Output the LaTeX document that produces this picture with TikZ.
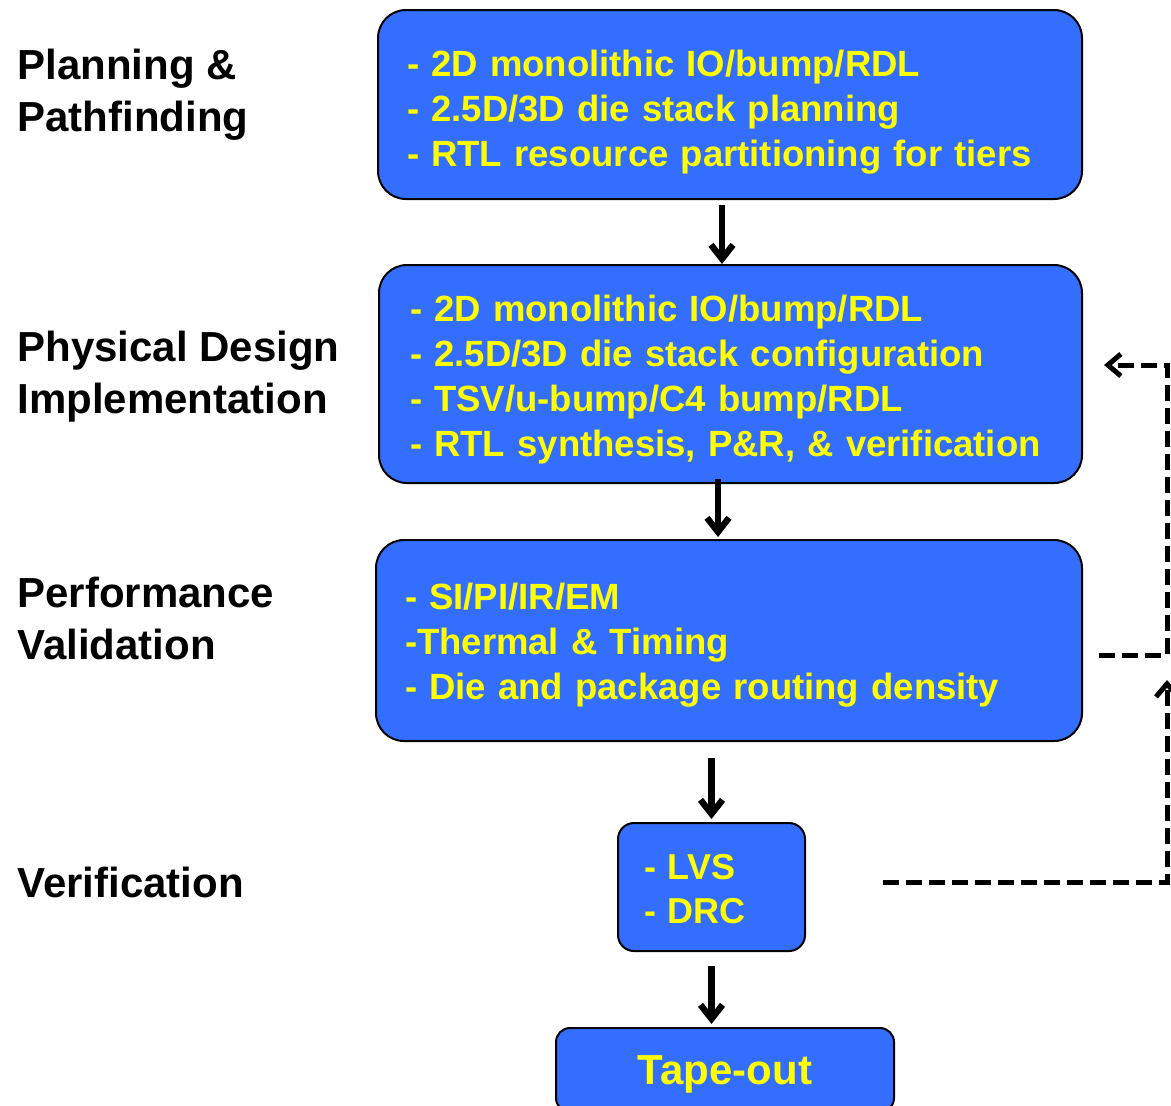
\documentclass[tikz,border=0pt]{standalone}
\usepackage{fontspec}
\setmainfont{Liberation Sans}
\usetikzlibrary{arrows.meta,calc}
\definecolor{boxblue}{RGB}{51,110,255}
\definecolor{txtyellow}{RGB}{255,255,0}
\newcommand{\tstr}[1]{\rule{0pt}{#1}}
\begin{document}
\begin{tikzpicture}[x=0.5pt,y=-0.5pt,
  box/.style={draw=black, line width=1pt, fill=boxblue, rounded corners=14pt,
    text=txtyellow, font=\bfseries\fontsize{18.25}{22.5}\selectfont,
    align=left, inner ysep=0pt},
  lbl/.style={anchor=west, align=left, font=\bfseries\fontsize{21}{26}\selectfont, inner sep=0pt},
  arr/.style={line width=3.2pt, -{Straight Barb[length=7pt,width=11pt]}},
  dsh/.style={line width=2.5pt, dash pattern=on 8pt off 3.5pt,
    -{Straight Barb[length=6.5pt,width=11pt]}},
]
\useasboundingbox (0,0) rectangle (1171,1105);
\clip (0,0) rectangle (1171,1105);

% left labels
\node[lbl] (l1) at (17,95) {Planning \&\\Pathfinding};
\node[lbl] (l2) at (17,377) {Physical Design\\Implementation};
\node[lbl] (l3) at (17,618) {Performance\\Validation};
\node[lbl] (l4) at (17,882) {Verification};

% boxes
\node[box, minimum width=352pt, minimum height=94.5pt, text width=323pt, inner xsep=14.5pt]
  (b1) at (730,104.5)
  {\tstr{20.5pt}- 2D monolithic IO/bump/RDL\\- 2.5D/3D die stack planning\\- RTL resource partitioning for tiers};
\node[box, minimum width=351.5pt, minimum height=109pt, text width=320.5pt, inner xsep=15.5pt]
  (b2) at (730.5,374)
  {\tstr{18.5pt}- 2D monolithic IO/bump/RDL\\- 2.5D/3D die stack configuration\\- TSV/u-bump/C4 bump/RDL\\- RTL synthesis, P\&R, \& verification};
\node[box, minimum width=353pt, minimum height=100.5pt, text width=324pt, inner xsep=14.5pt]
  (b3) at (729,640.5)
  {\tstr{17.5pt}- SI/PI/IR/EM\\-Thermal \& Timing\\- Die and package routing density};
\node[box, rounded corners=8pt, minimum width=93.5pt, minimum height=64pt, text width=67.5pt, inner xsep=13pt,
  font=\bfseries\fontsize{18}{22}\selectfont]
  (b4) at (711.5,887) {\tstr{15pt}- LVS\\- DRC};
\node[box, rounded corners=7pt, minimum width=169pt, minimum height=42pt, align=center,
  font=\bfseries\fontsize{21}{25}\selectfont]
  (b5) at (725,1070) {\tstr{19.3pt}Tape-out};

% solid arrows
\draw[arr, shorten <=2.5pt] ([xshift=-4pt]b1.south) -- ([xshift=-4pt]b1.south |- b2.north);
\draw[arr, shorten <=-2.5pt, shorten >=1pt] ([xshift=-6.25pt]b2.south) -- ([xshift=-6.25pt]b2.south |- b3.north);
\draw[arr, shorten <=8pt, shorten >=1.5pt] (b4.north |- b3.south) -- (b4.north);
\draw[arr, shorten <=7pt, shorten >=1.5pt] (b4.south) -- (b4.south |- b5.north);

% dashed feedback
\coordinate (pa) at (1167,655);
\coordinate (pc) at (1167,365);
\coordinate (qa) at (1167,882);
\draw[dsh, shorten <=8pt, shorten >=10.5pt] (b3.east |- pa) -- (pa) -- (pc) -- (b2.east |- pc);
\draw[dsh, shorten <=38.5pt, shorten >=12.5pt] (b4.east |- qa) -- (qa) -- (pa);
\end{tikzpicture}
\end{document}
